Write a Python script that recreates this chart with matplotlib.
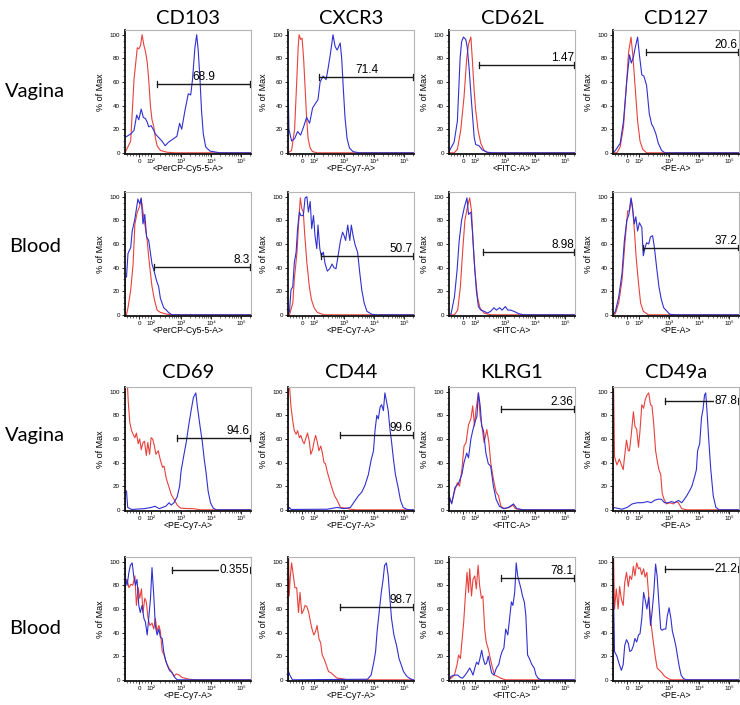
import numpy as np
import matplotlib
matplotlib.use("Agg")
import matplotlib.pyplot as plt

# ---------------- data ----------------
markers = ["CD103", "CXCR3", "CD62L", "CD127", "CD69", "CD44", "KLRG1", "CD49a"]
channels = ["<PerCP-Cy5-5-A>", "<PE-Cy7-A>", "<FITC-A>", "<PE-A>",
            "<PE-Cy7-A>", "<PE-Cy7-A>", "<FITC-A>", "<PE-A>"]
tissues = ["Vagina", "Blood"]
x_tick_pos = [1.6, 2, 3, 4, 5]          # display position (decade units) of axis ticks
x_tick_labels = ["0", "10²", "10³", "10⁴", "10⁵"]
y_ticks = [0, 20, 40, 60, 80, 100]

# curves: (display position, % of Max)
RED_CD103_V = [(1.13,0),(1.32,10),(1.43,62),(1.54,89),(1.59,88),(1.65,91),(1.70,100),(1.76,91),(1.81,86),
               (1.87,77),(1.92,62),(1.98,39),(2.03,28),(2.09,22),(2.14,13),(2.20,6),(2.31,2),(2.53,0.5),(2.8,0),(5.33,0)]
BLUE_CD103_V = [(1.13,13),(1.32,16),(1.43,19),(1.52,32),(1.59,28),(1.67,37),(1.74,30),(1.81,29),(1.87,26),(1.92,22),
                (2.0,23),(2.09,19),(2.14,16),(2.25,13),(2.36,10),(2.47,6),(2.58,9),(2.75,12),(2.86,14),(2.95,25),
                (3.02,20),(3.13,36),(3.24,50),(3.32,49),(3.38,62),(3.46,89),(3.52,100),(3.57,87),(3.63,62),(3.68,36),
                (3.74,16),(3.82,5),(3.96,1.5),(4.29,0),(5.33,0)]
RED_CXCR3_V = [(1.13,0),(1.25,2),(1.35,20),(1.42,60),(1.47,90),(1.5,100),(1.55,96),(1.6,97),(1.65,80),(1.7,55),
               (1.75,30),(1.8,12),(1.87,4),(1.95,1),(2.1,0),(5.33,0)]
BLUE_CXCR3_V = [(1.13,0),(1.135,60),(1.16,20),(1.25,10),(1.35,12),(1.45,18),(1.55,15),(1.65,22),(1.75,30),(1.85,25),
                (1.95,38),(2.05,42),(2.13,45),(2.2,60),(2.3,65),(2.4,62),(2.47,72),(2.55,85),(2.63,100),(2.7,90),
                (2.77,87),(2.87,93),(2.92,80),(2.97,56),(3.03,30),(3.1,12),(3.18,4),(3.3,1),(3.5,0),(5.33,0)]
RED_CD62L_V = [(1.13,0),(1.3,0),(1.41,3),(1.52,19),(1.63,47),(1.72,80),(1.78,92),(1.86,98),(1.91,78),(1.97,52),
               (2.02,36),(2.1,19),(2.19,8),(2.3,2),(2.41,0),(5.33,0)]
BLUE_CD62L_V = [(1.13,1),(1.17,3),(1.3,9),(1.41,27),(1.5,80),(1.55,94),(1.61,98),(1.69,96),(1.74,89),(1.8,72),
                (1.86,50),(1.91,33),(1.97,13),(2.02,7),(2.13,6),(2.24,2.5),(2.41,0.5),(2.6,0),(5.33,0)]
RED_CD127_V = [(1.13,0),(1.26,0),(1.37,5),(1.48,22),(1.57,55),(1.65,85),(1.73,98),(1.79,83),(1.87,55),(1.95,27),
               (2.03,10),(2.12,3),(2.25,0),(5.33,0)]
BLUE_CD127_V = [(1.13,0),(1.21,2),(1.37,8),(1.48,27),(1.59,61),(1.68,83),(1.74,76),(1.81,81),(1.87,89),(1.95,98),
                (2.01,83),(2.09,66),(2.16,65),(2.25,57),(2.34,33),(2.42,24),(2.47,22),(2.56,16),(2.64,8),(2.75,2),
                (2.86,0),(5.33,0)]
RED_CD103_B = [(1.13,0),(1.18,0),(1.23,6),(1.32,21),(1.4,43),(1.46,77),(1.54,87),(1.62,92),(1.67,98),(1.73,87),
               (1.79,77),(1.87,63),(1.92,49),(1.98,35),(2.03,24),(2.11,13),(2.2,4),(2.31,2),(2.53,0.5),(2.8,0),(5.33,0)]
BLUE_CD103_B = [(1.13,0),(1.14,32),(1.18,32),(1.23,52),(1.32,57),(1.37,71),(1.45,80),(1.5,88),(1.56,98),(1.62,94),
                (1.67,99),(1.73,77),(1.79,85),(1.85,66),(1.92,63),(1.98,52),(2.03,43),(2.09,38),(2.18,29),(2.25,24),
                (2.31,14),(2.42,6),(2.51,4),(2.58,2),(2.69,0),(5.33,0)]
RED_CXCR3_B = [(1.13,0),(1.18,0),(1.29,10),(1.34,30),(1.43,53),(1.48,76),(1.54,99),(1.59,90),(1.64,87),(1.69,67),
               (1.76,44),(1.84,24),(1.91,13),(2.0,6),(2.11,2),(2.33,0),(5.33,0)]
BLUE_CXCR3_B = [(1.13,0),(1.18,3),(1.23,21),(1.29,24),(1.34,44),(1.4,53),(1.45,73),(1.51,87),(1.56,84),(1.64,84),
                (1.7,99),(1.76,100),(1.81,87),(1.87,96),(1.92,73),(1.98,84),(2.03,67),(2.09,56),(2.13,76),(2.19,56),
                (2.24,50),(2.31,53),(2.36,44),(2.44,37),(2.52,39),(2.6,43),(2.66,40),(2.73,39),(2.8,50),(2.88,63),
                (2.95,70),(3.0,67),(3.05,63),(3.12,76),(3.19,63),(3.24,76),(3.3,67),(3.37,59),(3.45,53),(3.52,36),
                (3.59,21),(3.67,10),(3.76,3),(3.92,0.5),(4.05,0),(5.33,0)]
RED_CD62L_B = [(1.13,0),(1.31,0),(1.42,4),(1.51,24),(1.58,52),(1.66,80),(1.75,92),(1.82,99),(1.88,88),(1.93,63),
               (1.99,38),(2.08,15),(2.16,6),(2.3,1.4),(2.52,0),(5.33,0)]
BLUE_CD62L_B = [(1.13,0),(1.2,1),(1.31,15),(1.4,38),(1.47,63),(1.55,80),(1.64,91),(1.73,99),(1.78,85),(1.86,87),
                (1.91,71),(1.97,46),(2.04,21),(2.11,7),(2.19,4),(2.3,3),(2.41,1.5),(2.52,3),(2.63,6),(2.71,4),
                (2.82,6),(2.9,4),(3.01,7),(3.09,4),(3.18,4),(3.29,3),(3.45,1),(3.62,0),(5.33,0)]
RED_CD127_B = [(1.13,0),(1.21,1),(1.32,10),(1.43,29),(1.51,55),(1.57,74),(1.62,88),(1.68,88),(1.74,98),(1.79,88),
               (1.85,69),(1.9,49),(1.98,27),(2.05,10),(2.14,3),(2.31,0),(5.33,0)]
BLUE_CD127_B = [(1.13,0),(1.21,3),(1.32,15),(1.43,35),(1.51,63),(1.59,80),(1.66,85),(1.73,99),(1.78,91),(1.84,77),
                (1.89,83),(1.95,71),(2.01,78),(2.09,74),(2.14,50),(2.2,57),(2.25,61),(2.32,60),(2.38,66),(2.45,67),
                (2.51,57),(2.58,41),(2.66,24),(2.74,13),(2.82,6),(2.93,3),(3.02,0.5),(3.2,0),(5.33,0)]
RED_CD69_V = [(1.13,0),(1.135,106),(1.21,106),(1.24,91),(1.29,74),(1.35,67),(1.4,64),(1.46,61),(1.51,65),(1.57,56),
              (1.62,60),(1.67,51),(1.73,57),(1.78,58),(1.84,46),(1.89,57),(1.95,47),(2.0,61),(2.05,60),(2.11,54),
              (2.16,47),(2.24,50),(2.3,43),(2.38,36),(2.43,37),(2.51,26),(2.6,19),(2.67,13),(2.76,9),(2.87,4),
              (2.98,1.5),(3.2,1),(3.41,1),(3.63,0),(5.33,0)]
BLUE_CD69_V = [(1.13,0),(1.135,16),(1.18,16),(1.22,2),(1.35,0.3),(1.78,1),(2.0,2),(2.13,3),(2.27,1),(2.49,3),
               (2.6,6),(2.67,4),(2.76,6),(2.87,11),(2.95,20),(3.0,33),(3.09,46),(3.17,57),(3.25,71),(3.34,85),
               (3.41,95),(3.49,99),(3.54,88),(3.63,71),(3.71,57),(3.77,43),(3.83,32),(3.9,16),(3.98,6),(4.07,1.5),
               (4.17,0),(5.33,0)]
RED_CD44_V = [(1.13,0),(1.135,105),(1.18,105),(1.23,87),(1.29,75),(1.34,67),(1.4,64),(1.45,67),(1.51,61),(1.56,63),
              (1.62,58),(1.67,56),(1.73,61),(1.78,65),(1.84,58),(1.89,47),(1.95,51),(2.0,58),(2.05,63),(2.11,57),
              (2.16,50),(2.22,54),(2.27,49),(2.33,40),(2.38,39),(2.44,32),(2.52,25),(2.6,18),(2.68,12),(2.77,8),
              (2.88,2),(3.04,1.5),(3.21,0.5),(3.4,0),(5.33,0)]
BLUE_CD44_V = [(1.13,0),(1.18,2),(1.23,0.3),(2.44,0.5),(2.77,2),(2.99,1),(3.21,2),(3.37,8),(3.48,12),(3.59,15),
               (3.7,21),(3.81,30),(3.9,42),(3.98,50),(4.03,67),(4.09,80),(4.14,77),(4.2,87),(4.25,89),(4.31,84),
               (4.36,99),(4.42,91),(4.47,84),(4.53,68),(4.58,58),(4.64,44),(4.71,30),(4.8,19),(4.88,8),(4.97,2),
               (5.08,0.5),(5.2,0),(5.33,0)]
RED_KLRG1_V = [(1.13,0),(1.135,9),(1.22,6),(1.33,17),(1.41,23),(1.48,20),(1.56,34),(1.63,54),(1.7,57),(1.78,72),
               (1.86,77),(1.92,88),(1.98,71),(2.03,85),(2.11,99),(2.17,79),(2.22,72),(2.3,57),(2.39,68),(2.46,57),
               (2.52,40),(2.61,26),(2.7,15),(2.78,12),(2.86,3),(2.98,1),(3.14,2),(3.26,4),(3.34,1),(3.59,0),(5.33,0)]
BLUE_KLRG1_V = [(1.13,0),(1.135,12),(1.22,5),(1.33,19),(1.44,22),(1.56,30),(1.63,40),(1.72,48),(1.78,44),(1.86,60),
                (1.92,67),(2.0,75),(2.06,79),(2.11,99),(2.17,88),(2.22,71),(2.28,67),(2.36,48),(2.44,39),(2.52,37),
                (2.61,20),(2.7,9),(2.81,3),(2.94,1),(3.11,2),(3.28,5),(3.39,1),(3.6,0),(5.33,0)]
RED_CD49A_V = [(1.13,0),(1.135,104),(1.15,104),(1.18,45),(1.26,38),(1.34,43),(1.41,38),(1.47,34),(1.52,46),(1.58,59),
               (1.64,50),(1.68,50),(1.74,64),(1.81,83),(1.86,71),(1.92,68),(1.98,53),(2.03,67),(2.09,89),(2.15,86),
               (2.2,93),(2.26,97),(2.32,99),(2.38,89),(2.43,88),(2.49,72),(2.55,50),(2.6,42),(2.66,34),(2.72,30),
               (2.77,14),(2.83,9),(2.91,5),(3.02,6),(3.14,5),(3.23,7),(3.31,6),(3.42,1),(3.59,0),(5.33,0)]
BLUE_CD49A_V = [(1.13,0),(1.15,2),(1.43,0.5),(1.6,2),(1.77,5),(1.94,6),(2.11,6),(2.28,7),(2.4,6),(2.51,8),(2.63,9),
                (2.74,9),(2.85,6),(2.97,6),(3.08,7),(3.19,6),(3.31,8),(3.42,6),(3.51,9),(3.59,12),(3.68,16),(3.76,20),
                (3.85,28),(3.91,34),(3.95,50),(4.02,56),(4.08,78),(4.13,85),(4.18,97),(4.22,99),(4.27,81),(4.33,56),
                (4.39,34),(4.47,12),(4.56,2),(4.67,0),(5.33,0)]
RED_CD69_B = [(1.13,0),(1.135,100),(1.14,83),(1.2,85),(1.26,78),(1.33,81),(1.39,80),(1.46,88),(1.51,63),(1.57,78),
              (1.62,69),(1.68,77),(1.73,57),(1.79,69),(1.84,66),(1.9,52),(1.96,46),(2.03,48),(2.09,43),(2.14,52),
              (2.2,41),(2.26,46),(2.31,41),(2.37,24),(2.42,22),(2.5,15),(2.59,10),(2.68,7),(2.76,3),(2.84,5),
              (2.94,4),(3.03,2),(3.26,0.5),(3.48,0),(5.33,0)]
BLUE_CD69_B = [(1.13,0),(1.135,103),(1.14,87),(1.2,80),(1.26,91),(1.31,97),(1.37,99),(1.42,88),(1.48,80),(1.53,85),
               (1.59,63),(1.64,57),(1.7,63),(1.76,52),(1.81,49),(1.87,38),(1.92,52),(1.98,69),(2.03,95),(2.09,71),
               (2.14,46),(2.2,38),(2.26,43),(2.31,36),(2.37,35),(2.42,24),(2.48,17),(2.53,13),(2.61,8),(2.7,6),
               (2.79,2),(2.87,0),(5.33,0)]
RED_CD44_B = [(1.13,0),(1.135,105),(1.15,105),(1.17,71),(1.2,85),(1.25,99),(1.31,88),(1.36,78),(1.42,78),(1.48,57),
              (1.53,74),(1.59,56),(1.65,59),(1.7,63),(1.76,62),(1.82,57),(1.88,49),(1.93,43),(1.99,38),(2.05,41),
              (2.1,46),(2.16,35),(2.22,31),(2.27,21),(2.33,18),(2.4,13),(2.48,7),(2.56,6),(2.65,4),(2.76,1.5),
              (2.93,1),(3.1,0),(5.33,0)]
BLUE_CD44_B = [(1.13,0),(1.135,8),(1.19,4),(1.28,0),(3.78,0.5),(3.9,4),(3.99,15),(4.05,24),(4.1,41),(4.18,60),
               (4.24,74),(4.3,85),(4.35,97),(4.41,99),(4.47,88),(4.52,71),(4.58,52),(4.66,38),(4.75,29),(4.83,18),
               (4.9,13),(4.98,7),(5.09,3),(5.2,1),(5.3,0),(5.33,0)]
RED_KLRG1_B = [(1.13,0),(1.2,1.4),(1.31,4),(1.4,13),(1.45,21),(1.51,18),(1.56,32),(1.62,49),(1.67,69),(1.73,91),
               (1.78,74),(1.82,94),(1.88,71),(1.93,85),(1.99,88),(2.04,77),(2.1,97),(2.15,80),(2.21,69),(2.26,71),
               (2.32,43),(2.37,32),(2.43,27),(2.49,20),(2.57,11),(2.65,4),(2.74,3),(2.85,1.4),(3.01,0),(5.33,0)]
BLUE_KLRG1_B = [(1.13,0),(1.2,3),(1.31,4),(1.42,4),(1.51,2),(1.58,1.4),(1.67,4),(1.75,7),(1.82,10),(1.88,7),
                (1.93,4),(1.99,10),(2.05,15),(2.11,13),(2.16,18),(2.22,25),(2.27,18),(2.33,13),(2.38,14),(2.44,20),
                (2.49,13),(2.55,6),(2.63,4),(2.71,10),(2.79,13),(2.85,20),(2.9,24),(2.96,27),(3.02,43),(3.09,38),
                (3.15,52),(3.21,66),(3.26,63),(3.32,74),(3.37,99),(3.42,88),(3.47,83),(3.53,77),(3.58,71),(3.64,66),
                (3.69,55),(3.75,21),(3.81,18),(3.89,13),(3.97,10),(4.03,4),(4.11,1),(4.22,0),(5.33,0)]
RED_CD49A_B = [(1.13,0),(1.135,103),(1.15,103),(1.18,60),(1.24,77),(1.3,60),(1.35,79),(1.41,68),(1.47,63),(1.52,82),
               (1.58,91),(1.64,79),(1.69,88),(1.75,85),(1.81,96),(1.86,88),(1.92,99),(1.98,94),(2.03,95),(2.09,89),
               (2.15,94),(2.2,87),(2.26,91),(2.32,71),(2.38,52),(2.43,41),(2.49,29),(2.55,18),(2.6,10),(2.68,8),
               (2.76,6),(2.85,3),(2.97,1),(3.08,0),(5.33,0)]
BLUE_CD49A_B = [(1.13,0),(1.135,68),(1.15,68),(1.18,24),(1.26,20),(1.34,13),(1.41,8),(1.47,13),(1.52,29),(1.58,34),
                (1.64,31),(1.69,24),(1.75,25),(1.81,29),(1.86,35),(1.92,32),(1.98,38),(2.03,39),(2.09,52),(2.15,74),
                (2.2,68),(2.26,60),(2.32,70),(2.38,46),(2.43,57),(2.49,74),(2.55,98),(2.6,88),(2.66,65),(2.72,43),
                (2.77,42),(2.83,43),(2.89,43),(2.94,54),(3.0,61),(3.06,52),(3.11,41),(3.17,35),(3.23,28),(3.28,20),
                (3.34,11),(3.4,4),(3.48,1),(3.59,0),(5.33,0)]

red_curves = [[RED_CD103_V, RED_CXCR3_V, RED_CD62L_V, RED_CD127_V],
              [RED_CD103_B, RED_CXCR3_B, RED_CD62L_B, RED_CD127_B],
              [RED_CD69_V, RED_CD44_V, RED_KLRG1_V, RED_CD49A_V],
              [RED_CD69_B, RED_CD44_B, RED_KLRG1_B, RED_CD49A_B]]
blue_curves = [[BLUE_CD103_V, BLUE_CXCR3_V, BLUE_CD62L_V, BLUE_CD127_V],
               [BLUE_CD103_B, BLUE_CXCR3_B, BLUE_CD62L_B, BLUE_CD127_B],
               [BLUE_CD69_V, BLUE_CD44_V, BLUE_KLRG1_V, BLUE_CD49A_V],
               [BLUE_CD69_B, BLUE_CD44_B, BLUE_KLRG1_B, BLUE_CD49A_B]]

# gates: start position, gate height, percent label
gate_start = [[2.2, 2.17, 2.13, 2.23], [2.1, 2.23, 2.27, 2.13],
              [2.85, 2.87, 2.85, 2.87], [2.7, 2.87, 2.85, 2.87]]
gate_level = [[58.5, 64, 74, 85], [40.7, 50, 53, 57],
              [61, 63, 85.7, 92], [93, 62, 86, 94]]
gate_label = [["68.9", "71.4", "1.47", "20.6"], ["8.3", "50.7", "8.98", "37.2"],
              ["94.6", "99.6", "2.36", "87.8"], ["0.355", "98.7", "78.1", "21.2"]]

# ---------------- layout ----------------
W, H = 740, 705
fig = plt.figure(figsize=(W / 100, H / 100), dpi=100)
col_left = [125, 288, 449, 613]
row_top = [30, 192, 387, 557]
ax_w, ax_h = 126, 124
XLIM = (1.13, 5.33)
RED = "#e8413c"
BLUE = "#3030d0"
NUMFONT = ["Liberation Sans", "DejaVu Sans"]
TITLEFONT = "Lato"

label_mode = [[("c", 3.77), ("c", 3.75), ("r", None), ("r", None)],
              [("r", None), ("r", None), ("r", None), ("r", None)],
              [("r", None), ("r", None), ("r", None), ("on", None)],
              [("on", None), ("r", None), ("r", None), ("on", None)]]

minor_x = []
for d in [2, 3, 4, 5]:
    for k in range(2, 10):
        p = d + np.log10(k)
        if p < XLIM[1]:
            minor_x.append(p)
minor_x += [1.2, 1.3, 1.4, 1.5, 1.7, 1.8, 1.9]

for r in range(4):
    for c in range(4):
        left = col_left[c] / W
        bottom = (H - row_top[r] - ax_h) / H
        ax = fig.add_axes([left, bottom, ax_w / W, ax_h / H])
        rx, ry = zip(*red_curves[r][c])
        bx, by = zip(*blue_curves[r][c])
        ax.plot(rx, ry, color=RED, lw=0.8, clip_on=True)
        ax.plot(bx, by, color=BLUE, lw=0.8, clip_on=True)
        ax.set_xlim(*XLIM)
        ax.set_ylim(-1, 104)
        ax.set_xticks(x_tick_pos)
        ax.set_xticklabels(x_tick_labels, fontsize=4.5, family=NUMFONT)
        ax.set_xticks(minor_x, minor=True)
        ax.set_yticks(y_ticks)
        ax.set_yticklabels([str(v) for v in y_ticks], fontsize=4.5, family=NUMFONT)
        ax.set_yticks(np.arange(0, 101, 5), minor=True)
        ax.tick_params(which="major", length=2.5, width=0.6, pad=1.2, direction="out")
        ax.tick_params(which="minor", length=1.5, width=0.4, direction="out")
        for s in ["left", "bottom"]:
            ax.spines[s].set_color("#111111")
            ax.spines[s].set_linewidth(1.3)
        for s in ["top", "right"]:
            ax.spines[s].set_color("#b5b5b5")
            ax.spines[s].set_linewidth(0.8)
        m = r // 2 * 4 + c
        ax.set_ylabel("% of Max", fontsize=6.5, family=NUMFONT, labelpad=3)
        ax.set_xlabel(channels[m], fontsize=6.3, family=NUMFONT, labelpad=0)

        # gate
        x0 = gate_start[r][c]
        x1 = 5.3
        gy = gate_level[r][c]
        ax.plot([x0, x1], [gy, gy], color="#1a1a1a", lw=1.0, zorder=5)
        ax.plot([x0, x0], [gy - 2.5, gy + 2.5], color="#1a1a1a", lw=0.9, zorder=5)
        ax.plot([x1, x1], [gy - 2.5, gy + 2.5], color="#1a1a1a", lw=0.9, zorder=5)
        mode, lx = label_mode[r][c]
        if mode == "c":
            ax.text(lx, gy + 0.8, gate_label[r][c], ha="center", va="bottom",
                    fontsize=8.5, family=NUMFONT, zorder=6)
        elif mode == "r":
            ax.text(5.29, gy + 0.8, gate_label[r][c], ha="right", va="bottom",
                    fontsize=8.5, family=NUMFONT, zorder=6)
        else:
            ax.text(5.27, gy, gate_label[r][c], ha="right", va="center",
                    fontsize=8.5, family=NUMFONT, zorder=6,
                    bbox=dict(facecolor="white", edgecolor="none", pad=0.3))

# titles
for r, ty in [(0, 24), (2, 378)]:
    for c in range(4):
        cx = (col_left[c] + ax_w / 2) / W
        fig.text(cx, 1 - ty / H, markers[r // 2 * 4 + c], ha="center", va="baseline",
                 fontsize=14.5, family=TITLEFONT)

# row labels
for r, by in enumerate([97, 252, 441, 634]):
    fig.text(35 / W, 1 - by / H, tissues[r % 2], ha="center", va="baseline",
             fontsize=14.5, family=TITLEFONT)

fig.savefig("out.png", dpi=100)
